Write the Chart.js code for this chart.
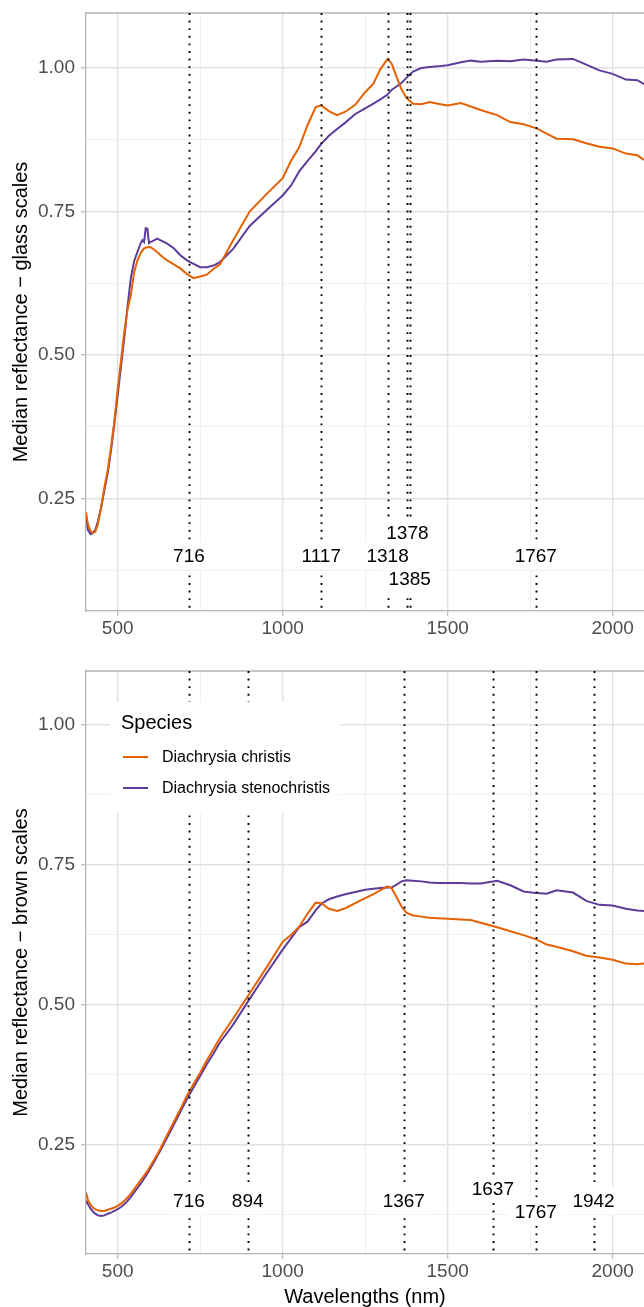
<!DOCTYPE html>
<html><head><meta charset="utf-8">
<script src="https://cdn.jsdelivr.net/npm/chart.js@4"></script>
<style>
html,body{margin:0;padding:0;background:#fff;overflow:hidden;width:644px;height:1307px;}
#top{position:absolute;left:0;top:0;width:644px;height:645px;}
#bot{position:absolute;left:0;top:645px;width:644px;height:662px;}
</style></head><body>
<div id="top"><canvas id="c1"></canvas></div>
<div id="bot"><canvas id="c2"></canvas></div>
<script>
// ---- data ----
const wavelengths = [404,410,418,425,432,440,450,460,470,480,490,500,510,520,530,540,550,560,570,575,580,585,590,595,600,610,620,630,640,650,670,690,710,730,750,770,790,810,850,900,950,1000,1025,1050,1075,1100,1117,1140,1165,1190,1220,1250,1275,1295,1318,1330,1345,1360,1375,1395,1420,1445,1470,1500,1540,1570,1600,1650,1690,1730,1770,1800,1830,1880,1920,1960,2000,2040,2075,2095];

const glassChristis = [0.226,0.205,0.193,0.190,0.192,0.205,0.235,0.270,0.300,0.340,0.385,0.440,0.490,0.540,0.580,0.605,0.645,0.665,0.678,0.682,0.686,0.687,0.688,0.688,0.688,0.684,0.679,0.674,0.669,0.665,0.658,0.651,0.641,0.634,0.637,0.640,0.650,0.658,0.700,0.750,0.780,0.808,0.838,0.862,0.900,0.932,0.935,0.925,0.918,0.924,0.936,0.958,0.973,0.997,1.016,1.008,0.985,0.963,0.948,0.938,0.937,0.941,0.938,0.935,0.939,0.933,0.927,0.918,0.906,0.902,0.895,0.886,0.877,0.876,0.869,0.863,0.860,0.851,0.848,0.840];

const glassStenochristis = [0.220,0.195,0.188,0.190,0.195,0.210,0.235,0.265,0.295,0.335,0.380,0.430,0.480,0.530,0.585,0.635,0.664,0.680,0.695,0.700,0.697,0.721,0.720,0.695,0.697,0.700,0.703,0.700,0.697,0.694,0.686,0.674,0.665,0.659,0.653,0.653,0.656,0.662,0.685,0.725,0.752,0.778,0.795,0.820,0.838,0.855,0.868,0.882,0.894,0.905,0.920,0.930,0.938,0.945,0.954,0.962,0.968,0.974,0.983,0.994,1.000,1.002,1.003,1.005,1.010,1.013,1.011,1.013,1.012,1.015,1.013,1.011,1.015,1.016,1.006,0.996,0.990,0.980,0.979,0.972];

const brownChristis = [0.164,0.150,0.142,0.137,0.134,0.132,0.131,0.131,0.133,0.135,0.137,0.140,0.144,0.149,0.155,0.162,0.170,0.178,0.186,0.190,0.194,0.198,0.202,0.207,0.212,0.222,0.232,0.243,0.255,0.267,0.290,0.313,0.337,0.358,0.378,0.400,0.420,0.440,0.475,0.520,0.565,0.612,0.624,0.639,0.662,0.682,0.681,0.671,0.667,0.672,0.681,0.690,0.697,0.704,0.711,0.708,0.692,0.675,0.664,0.659,0.657,0.655,0.654,0.653,0.652,0.651,0.646,0.638,0.631,0.624,0.616,0.607,0.603,0.595,0.587,0.584,0.580,0.573,0.572,0.573];

const brownStenochristis = [0.149,0.143,0.135,0.130,0.126,0.123,0.122,0.123,0.126,0.128,0.131,0.134,0.138,0.143,0.149,0.156,0.164,0.172,0.180,0.184,0.189,0.193,0.198,0.203,0.208,0.218,0.229,0.240,0.251,0.262,0.285,0.308,0.331,0.352,0.372,0.393,0.412,0.432,0.464,0.510,0.555,0.598,0.618,0.638,0.648,0.668,0.680,0.688,0.693,0.697,0.701,0.705,0.707,0.708,0.709,0.709,0.714,0.720,0.722,0.721,0.720,0.718,0.717,0.717,0.717,0.716,0.716,0.721,0.713,0.702,0.699,0.698,0.704,0.700,0.685,0.678,0.677,0.671,0.668,0.667];

const speciesNames = ['Diachrysia christis', 'Diachrysia stenochristis'];
const speciesColors = ['#E66101', '#5E3C99'];

const glassPeaks = [716, 1117, 1318, 1378, 1385, 1767];
const glassPeakLabelY = [0.15, 0.15, 0.15, 0.19, 0.11, 0.15];
const brownPeaks = [716, 894, 1367, 1637, 1767, 1942];
const brownPeakLabelY = [0.15, 0.15, 0.15, 0.17, 0.13, 0.15];

const xTicks = [500, 750, 1000, 1250, 1500, 1750, 2000];
const xTickLabels = ['500', '', '1000', '', '1500', '', '2000'];
const yTicks = [0.125, 0.25, 0.375, 0.5, 0.625, 0.75, 0.875, 1.0];
const yTickLabels = ['', '0.25', '', '0.50', '', '0.75', '', '1.00'];

const xRange = [404, 2095];
const yRange = [0.054, 1.096];

// ---- helpers ----
const FONT = '"Liberation Sans", Arial, Helvetica, sans-serif';
const majorX = v => xTickLabels[xTicks.indexOf(v)] !== '';
const majorY = v => { const i = yTicks.findIndex(t => Math.abs(t - v) < 1e-9); return i >= 0 && yTickLabels[i] !== ''; };
const toPoints = (xs, ys) => xs.map((x, i) => ({x: x, y: ys[i]}));

const panelBorder = {
  id: 'panelBorder',
  afterDatasetsDraw(chart) {
    const {ctx, chartArea: a} = chart;
    ctx.save();
    ctx.strokeStyle = '#B3B3B3';
    ctx.lineWidth = 1.3;
    ctx.beginPath();
    ctx.moveTo(a.left, a.top); ctx.lineTo(a.right + 2, a.top);
    ctx.stroke();
    ctx.restore();
  }
};

const peakLines = {
  id: 'peakLines',
  afterDatasetsDraw(chart, args, opts) {
    const {ctx, chartArea: a, scales} = chart;
    ctx.save();
    ctx.beginPath(); ctx.rect(a.left, a.top, a.right - a.left, a.bottom - a.top); ctx.clip();
    ctx.strokeStyle = '#000';
    ctx.lineWidth = 1.9;
    ctx.setLineDash([1.9, 5.7]);
    opts.peaks.forEach(p => {
      const x = Math.round(scales.x.getPixelForValue(p)) + 0.5;
      ctx.beginPath(); ctx.moveTo(x, a.top); ctx.lineTo(x, a.bottom); ctx.stroke();
    });
    ctx.setLineDash([]);
    ctx.font = '19px ' + FONT;
    ctx.textAlign = 'center';
    ctx.textBaseline = 'middle';
    opts.peaks.forEach((p, i) => {
      const x = scales.x.getPixelForValue(p);
      const y = scales.y.getPixelForValue(opts.labelY[i]);
      const t = String(p);
      const w = ctx.measureText(t).width + 14;
      ctx.fillStyle = '#fff';
      ctx.fillRect(x - w / 2, y - 14, w, 28);
      ctx.fillStyle = '#000';
      ctx.fillText(t, x, y + 1);
    });
    ctx.restore();
  }
};

const insideLegend = {
  id: 'insideLegend',
  afterDraw(chart, args, opts) {
    if (!opts.show) return;
    const {ctx, chartArea: a} = chart;
    const L = a.left + 24, T = a.top + 31;
    ctx.save();
    ctx.fillStyle = '#fff';
    ctx.fillRect(L, T, 230, 111);
    ctx.fillStyle = '#000';
    ctx.textBaseline = 'middle';
    ctx.textAlign = 'left';
    ctx.font = '20px ' + FONT;
    ctx.fillText('Species', L + 11, T + 21);
    ctx.font = '16px ' + FONT;
    chart.data.datasets.forEach((ds, i) => {
      const y = T + 55 + i * 31;
      ctx.strokeStyle = ds.borderColor;
      ctx.lineWidth = 2;
      ctx.beginPath(); ctx.moveTo(L + 13, y); ctx.lineTo(L + 38, y); ctx.stroke();
      ctx.fillStyle = '#000';
      ctx.fillText(ds.label, L + 52, y + 1);
    });
    ctx.restore();
  }
};

function makeChart(canvasId, seriesA, seriesB, yTitle, showXTitle, peaks, labelY, padTop, xAxisHeight, showLegend) {
  return new Chart(document.getElementById(canvasId), {
    type: 'line',
    data: {
      datasets: [
        {label: speciesNames[0], data: toPoints(wavelengths, seriesA), borderColor: speciesColors[0], backgroundColor: speciesColors[0], borderWidth: 2, pointRadius: 0, tension: 0, fill: false},
        {label: speciesNames[1], data: toPoints(wavelengths, seriesB), borderColor: speciesColors[1], backgroundColor: speciesColors[1], borderWidth: 2, pointRadius: 0, tension: 0, fill: false}
      ]
    },
    options: {
      responsive: true,
      maintainAspectRatio: false,
      animation: false,
      devicePixelRatio: 1,
      events: [],
      layout: {padding: {top: padTop, left: 0, right: 0, bottom: 0}},
      plugins: {
        legend: {display: false},
        tooltip: {enabled: false},
        peakLines: {peaks: peaks, labelY: labelY},
        insideLegend: {show: showLegend}
      },
      scales: {
        x: {
          type: 'linear',
          min: xRange[0], max: xRange[1],
          afterBuildTicks: s => { s.ticks = xTicks.map(v => ({value: v})); },
          afterFit: s => { s.height = xAxisHeight; s.paddingLeft = 0; s.paddingRight = 0; },
          ticks: {
            autoSkip: false, maxRotation: 0, padding: 1,
            color: '#4D4D4D', font: {family: FONT, size: 19},
            callback: (v) => { const i = xTicks.indexOf(v); return i >= 0 ? xTickLabels[i] : ''; }
          },
          grid: {
            color: c => (c.tick && majorX(c.tick.value)) ? '#E2E2E2' : '#ECECEC',
            lineWidth: c => (c.tick && majorX(c.tick.value)) ? 1.4 : 0.8,
            tickColor: c => (c.tick && majorX(c.tick.value)) ? '#B3B3B3' : 'rgba(0,0,0,0)',
            tickLength: 5, tickWidth: 1.1
          },
          border: {display: true, color: '#B3B3B3', width: 1.3},
          title: {display: showXTitle, text: 'Wavelengths (nm)', color: '#000', font: {family: FONT, size: 20, lineHeight: 1}, padding: {top: 0, bottom: 0}}
        },
        y: {
          type: 'linear',
          min: yRange[0], max: yRange[1],
          afterBuildTicks: s => { s.ticks = yTicks.map(v => ({value: v})); },
          afterFit: s => { s.width = 86; s.paddingTop = 0; s.paddingBottom = 0; },
          ticks: {
            autoSkip: false, padding: 6,
            color: '#4D4D4D', font: {family: FONT, size: 19},
            callback: (v) => { const i = yTicks.findIndex(t => Math.abs(t - v) < 1e-9); return i >= 0 ? yTickLabels[i] : ''; }
          },
          grid: {
            color: c => (c.tick && majorY(c.tick.value)) ? '#E2E2E2' : '#ECECEC',
            lineWidth: c => (c.tick && majorY(c.tick.value)) ? 1.4 : 0.8,
            tickColor: c => (c.tick && majorY(c.tick.value)) ? '#B3B3B3' : 'rgba(0,0,0,0)',
            tickLength: 5, tickWidth: 1.1
          },
          border: {display: true, color: '#B3B3B3', width: 1.3},
          title: {display: true, text: yTitle, color: '#000', font: {family: FONT, size: 20, lineHeight: 1}, padding: {top: 11, bottom: 0}}
        }
      }
    },
    plugins: [panelBorder, peakLines, insideLegend]
  });
}

makeChart('c1', glassChristis, glassStenochristis, 'Median reflectance \u2212 glass scales', false, glassPeaks, glassPeakLabelY, 13, 34, false);
makeChart('c2', brownChristis, brownStenochristis, 'Median reflectance \u2212 brown scales', true, brownPeaks, brownPeakLabelY, 26, 53, true);
</script>
</body></html>
